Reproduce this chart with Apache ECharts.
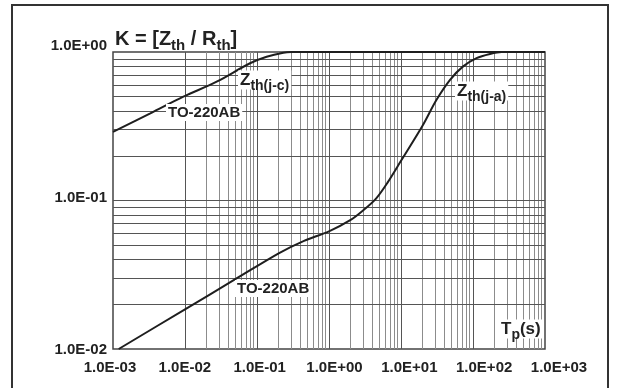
<!DOCTYPE html>
<html><head><meta charset="utf-8">
<script src="https://cdn.jsdelivr.net/npm/echarts@6/dist/echarts.min.js"></script>
<style>html,body{margin:0;padding:0;background:#fff}#c{width:617px;height:388px}</style>
</head><body><div id="c"></div>
<script>
// ---- data ----
const xTickLabels = ['1.0E-03','1.0E-02','1.0E-01','1.0E+00','1.0E+01','1.0E+02','1.0E+03'];
const yTickLabels = ['1.0E-02','1.0E-01','1.0E+00'];
// Zth(j-c), TO-220AB
const tJC = [0.001, 0.0033, 0.0095, 0.0275, 0.08, 0.136, 0.232, 0.3, 1000];
const kJC = [0.29, 0.386, 0.50, 0.631, 0.84, 0.93, 0.99, 1.0, 1.0];
// Zth(j-a), TO-220AB
const tJA = [0.0012, 0.01, 0.05, 0.2, 0.45, 1.0, 2.0, 3.0, 4.5, 6.5, 10, 20, 31, 48, 73, 112, 172, 250, 1000];
const kJA = [0.01, 0.0185, 0.0295, 0.0441, 0.0535, 0.062, 0.074, 0.086, 0.103, 0.132, 0.185, 0.32, 0.475, 0.65, 0.80, 0.91, 0.97, 1.0, 1.0];

const FONT = '"Liberation Sans", Arial, sans-serif';
const pairs = (a, b) => a.map((v, i) => [v, b[i]]);

// log grid lines (decades + 2..9 minor)
const gridLines = [];
for (let d = -3; d < 3; d++) {
  for (let m = 1; m <= 9; m++) {
    const v = m * Math.pow(10, d);
    if (m === 1 && d === -3) continue;
    gridLines.push({ xAxis: v, lineStyle: { color: m === 1 ? '#555' : '#8c8c8c', width: 1, type: 'solid' } });
  }
}
for (let d = -2; d < 0; d++) {
  for (let m = 1; m <= 9; m++) {
    const v = m * Math.pow(10, d);
    if (m === 1 && d === -2) continue;
    gridLines.push({ yAxis: v, lineStyle: { color: '#555', width: 1, type: 'solid' } });
  }
}

const chart = echarts.init(document.getElementById('c'), null, { renderer: 'canvas' });

const lblStyle = { fontFamily: FONT, fontSize: 15, fontWeight: 'bold', color: '#222' };
const rich = {
  m: { fontFamily: FONT, fontSize: 17, fontWeight: 'bold', fill: '#222', lineHeight: 17 },
  s: { fontFamily: FONT, fontSize: 14, fontWeight: 'bold', fill: '#222', lineHeight: 14, padding: [12, 0, 0, 0] },
  M: { fontFamily: FONT, fontSize: 20, fontWeight: 'bold', fill: '#222', lineHeight: 20 },
  S: { fontFamily: FONT, fontSize: 15, fontWeight: 'bold', fill: '#222', lineHeight: 15, padding: [13, 0, 0, 0] },
  t: { fontFamily: FONT, fontSize: 15, fontWeight: 'bold', fill: '#222' }
};
function txt(x, y, text, bg) {
  return { type: 'text', left: x, top: y, z: 100, silent: true,
    style: { text: text, rich: rich, fill: '#222', font: 'bold 15px ' + FONT,
      backgroundColor: bg ? '#fff' : 'transparent', padding: bg ? [1, 2, 1, 2] : 0 } };
}

const option = {
  backgroundColor: '#fff',
  animation: false,
  grid: [
    { left: 113, right: 72, top: 52, bottom: 39, show: true, borderColor: '#444', borderWidth: 1.5, backgroundColor: 'transparent' },
    { left: 110, right: 58, top: 46, bottom: 38, show: false }
  ],
  xAxis: [
    { type: 'log', logBase: 10, min: 0.001, max: 1000, gridIndex: 0,
      axisLine: { show: false }, axisTick: { show: false }, axisLabel: { show: false }, splitLine: { show: false } },
    { type: 'log', logBase: 10, min: 0.001, max: 1000, gridIndex: 1, splitNumber: 6,
      axisLine: { show: false }, axisTick: { show: false }, splitLine: { show: false },
      axisLabel: Object.assign({ margin: 10, formatter: v => xTickLabels[Math.round(Math.log10(v)) + 3] }, lblStyle) }
  ],
  yAxis: [
    { type: 'log', logBase: 10, min: 0.01, max: 1, gridIndex: 0,
      axisLine: { show: false }, axisTick: { show: false }, axisLabel: { show: false }, splitLine: { show: false } },
    { type: 'log', logBase: 10, min: 0.01, max: 1, gridIndex: 1, splitNumber: 2,
      axisLine: { show: false }, axisTick: { show: false }, splitLine: { show: false },
      axisLabel: Object.assign({ margin: 3, formatter: v => yTickLabels[Math.round(Math.log10(v)) + 2] }, lblStyle) }
  ],
  series: [
    { type: 'line', xAxisIndex: 0, yAxisIndex: 0, z: 1, data: [[0.001, 0.01]], showSymbol: false,
      lineStyle: { opacity: 0 }, silent: true,
      markLine: { silent: true, symbol: ['none', 'none'], label: { show: false }, animation: false, data: gridLines } },
    { name: 'Zth(j-c)', type: 'line', xAxisIndex: 0, yAxisIndex: 0, z: 5, data: pairs(tJC, kJC),
      smooth: 0.35, showSymbol: false, lineStyle: { color: '#1e1e1e', width: 2 } },
    { name: 'Zth(j-a)', type: 'line', xAxisIndex: 0, yAxisIndex: 0, z: 5, data: pairs(tJA, kJA),
      smooth: 0.3, showSymbol: false, lineStyle: { color: '#1e1e1e', width: 2 } }
  ],
  graphic: [
    { type: 'rect', z: 200, silent: true, shape: { x: 12, y: 5, width: 596, height: 420 },
      style: { fill: 'none', stroke: '#333', lineWidth: 2 } },
    txt(115, 25, '{M|K = [Z}{S|th}{M| / R}{S|th}{M|]}', false),
    txt(238, 67, '{m|Z}{s|th(j-c)}', true),
    txt(455, 78, '{m|Z}{s|th(j-a)}', true),
    txt(166, 104, '{t|TO-220AB}', true),
    txt(235, 280, '{t|TO-220AB}', true),
    txt(499, 316, '{m|T}{s|p}{m|(s)}', true)
  ]
};
chart.setOption(option);
</script>
</body></html>
